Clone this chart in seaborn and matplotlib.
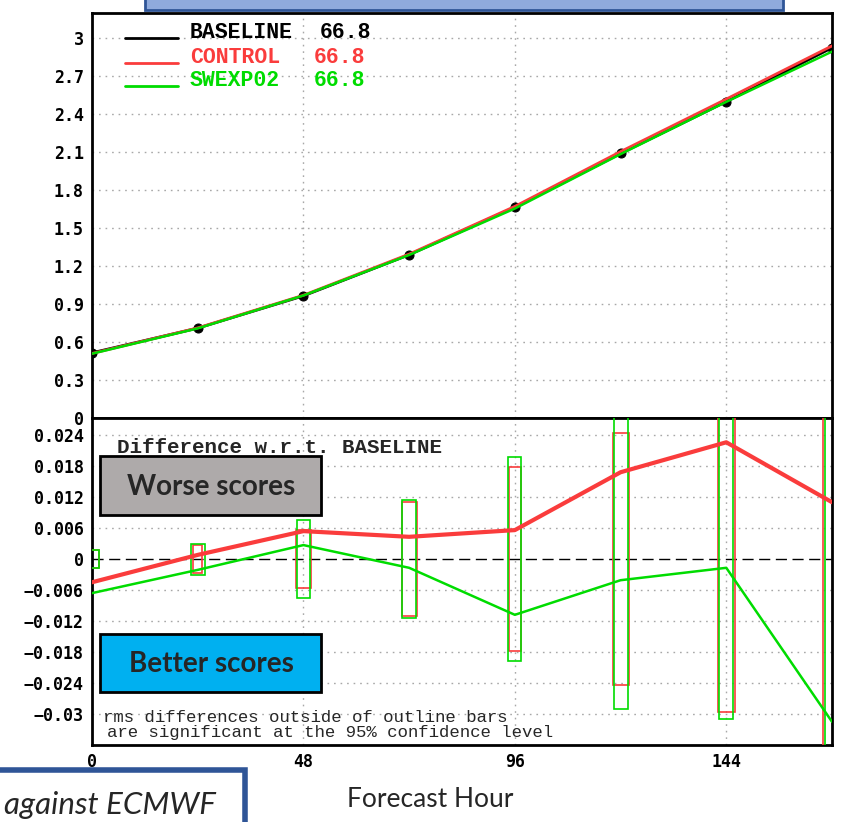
import numpy as np
import pandas as pd
import matplotlib
matplotlib.use("Agg")
import matplotlib.pyplot as plt
import seaborn as sns
from matplotlib.patches import Rectangle

# ---------------- data ----------------
hours = [0, 24, 48, 72, 96, 120, 144, 168]
baseline = [0.515, 0.71, 0.965, 1.29, 1.665, 2.09, 2.50, 2.925]
control = [0.51, 0.712, 0.97, 1.295, 1.672, 2.105, 2.52, 2.94]
swexp02 = [0.508, 0.708, 0.968, 1.288, 1.655, 2.085, 2.498, 2.895]

diff_control = [-0.0045, 0.0008, 0.0054, 0.0043, 0.0056, 0.0168, 0.0226, 0.011]
diff_swexp02 = [-0.0066, -0.0021, 0.0027, -0.0017, -0.0108, -0.0041, -0.0017, -0.0315]
ci_control = [0.0017, 0.0028, 0.0056, 0.011, 0.0178, 0.0244, 0.0296, 0.06]
ci_swexp02 = [0.0017, 0.0030, 0.0075, 0.0115, 0.0198, 0.029, 0.031, 0.06]

series_names = ["BASELINE", "CONTROL", "SWEXP02"]
series_scores = ["66.8", "66.8", "66.8"]

top_yticks = [0, 0.3, 0.6, 0.9, 1.2, 1.5, 1.8, 2.1, 2.4, 2.7, 3.0]
top_ylabels = ["0", "0.3", "0.6", "0.9", "1.2", "1.5", "1.8", "2.1", "2.4", "2.7", "3"]
bot_yticks = [0.024, 0.018, 0.012, 0.006, 0, -0.006, -0.012, -0.018, -0.024, -0.03]
bot_ylabels = ["0.024", "0.018", "0.012", "0.006", "0", "\u22120.006", "\u22120.012",
               "\u22120.018", "\u22120.024", "\u22120.03"]
xticks = [0, 48, 96, 144]
xlabels = ["0", "48", "96", "144"]

# ---------------- style ----------------
sns.set_theme(style="white")
plt.rcParams['font.family'] = ['DejaVu Sans']

BLACK = "#000000"
RED = "#FA3C3C"
GREEN = "#00DC00"
GRID = dict(color="#A8A8A8", linestyle=(0, (1.2, 3.5)), linewidth=1.0)

W, H = 846, 822
fig = plt.figure(figsize=(W / 100, H / 100), dpi=100)

ax1 = fig.add_axes([92 / W, 1 - 418 / H, 740 / W, 405 / H])
ax2 = fig.add_axes([92 / W, 1 - 745 / H, 740 / W, 327 / H])

tickfont = dict(family="DejaVu Sans Mono", weight="bold", size=12)

# top panel lines
df_top = pd.DataFrame({"hour": hours, "BASELINE": baseline, "CONTROL": control, "SWEXP02": swexp02})
sns.lineplot(data=df_top, x="hour", y="BASELINE", ax=ax1, color=BLACK, lw=2, marker="o",
             markersize=6.5, markeredgecolor=BLACK, zorder=3)
sns.lineplot(data=df_top, x="hour", y="CONTROL", ax=ax1, color=RED, lw=2, zorder=4)
sns.lineplot(data=df_top, x="hour", y="SWEXP02", ax=ax1, color=GREEN, lw=1.8, zorder=5)

ax1.set_xlim(0, 168)
ax1.set_ylim(0, 3.2)
ax1.set_yticks(top_yticks)
ax1.set_yticklabels(top_ylabels, fontdict=tickfont)
ax1.set_xticks(xticks)
ax1.set_xticklabels([])
ax1.tick_params(axis="x", length=0)
ax1.set_xlabel("")
ax1.set_ylabel("")
for y in top_yticks[1:]:
    ax1.axhline(y, zorder=0, **GRID)
for x in xticks[1:]:
    ax1.axvline(x, zorder=0, **GRID)

# legend
leg_y = [0.938, 0.877, 0.820]
leg_c = [BLACK, RED, GREEN]
val_x = [0.308, 0.299, 0.299]
for name, score, yy, cc, vx in zip(series_names, series_scores, leg_y, leg_c, val_x):
    ax1.plot([0.0446, 0.116], [yy, yy], transform=ax1.transAxes, color=cc, lw=2, zorder=6)
    ax1.text(0.1324, yy, name, transform=ax1.transAxes, color=cc, va="baseline", ha="left",
             family="Liberation Mono", weight="bold", size=15.5)
    ax1.text(vx, yy, score, transform=ax1.transAxes, color=cc, va="baseline", ha="left",
             family="Liberation Mono", weight="bold", size=15.5)

# bottom panel
bar_w_control = [3.0, 2.0, 3.4, 3.4, 2.8, 3.6, 3.8, 4.0]
bar_w_swexp02 = [3.2, 3.2, 3.0, 3.2, 3.0, 3.2, 3.2, 3.2]
df_bot = pd.DataFrame({"hour": hours, "CONTROL": diff_control, "SWEXP02": diff_swexp02})
ax2.bar(hours, [2 * c for c in ci_control], bottom=[-c for c in ci_control], width=bar_w_control,
        fill=False, edgecolor=RED, linewidth=1.2, zorder=3)
ax2.bar(hours, [2 * c for c in ci_swexp02], bottom=[-c for c in ci_swexp02], width=bar_w_swexp02,
        fill=False, edgecolor=GREEN, linewidth=1.2, zorder=3)
sns.lineplot(data=df_bot, x="hour", y="CONTROL", ax=ax2, color=RED, lw=3, zorder=5)
sns.lineplot(data=df_bot, x="hour", y="SWEXP02", ax=ax2, color=GREEN, lw=1.8, zorder=4)
ax2.axhline(0, color="black", lw=1.0, linestyle=(0, (8, 4)), zorder=2)

ax2.set_xlim(0, 168)
ax2.set_ylim(-0.036, 0.0273)
ax2.set_yticks(bot_yticks)
ax2.set_yticklabels(bot_ylabels, fontdict=tickfont)
ax2.set_xticks(xticks)
ax2.set_xticklabels(xlabels, fontdict=tickfont)
ax2.set_xlabel("")
ax2.set_ylabel("")
for y in bot_yticks:
    if y != 0:
        ax2.axhline(y, zorder=0, **GRID)
for x in xticks[1:]:
    ax2.axvline(x, zorder=0, **GRID)

ax2.text(0.0338, 0.893, "Difference w.r.t. BASELINE", transform=ax2.transAxes,
         family="Liberation Mono", weight="bold", size=15, va="baseline", ha="left")
ax2.text(0.0149, 0.070, "rms differences outside of outline bars", transform=ax2.transAxes,
         family="Liberation Mono", size=12.5, va="baseline", ha="left")
ax2.text(0.0200, 0.0245, "are significant at the 95% confidence level", transform=ax2.transAxes,
         family="Liberation Mono", size=12.5, va="baseline", ha="left")

for ax in (ax1, ax2):
    for s in ax.spines.values():
        s.set_color("black")
        s.set_linewidth(2)
        s.set_visible(True)
    ax.tick_params(axis="y", direction="out", length=4, width=1.5, pad=2, colors="black")
ax2.tick_params(axis="x", direction="out", length=4, width=1.5, pad=2, colors="black")

# ---------------- overlay annotations ----------------
fig.add_artist(Rectangle((145 / W, 1 - 10 / H), (783 - 145) / W, 30 / H, transform=fig.transFigure,
                         facecolor="#8FAADC", edgecolor="#2F5597", lw=2, zorder=10))

fig.add_artist(Rectangle((100 / W, 1 - 515 / H), 221 / W, 59 / H, transform=fig.transFigure,
                         facecolor="#AEAAAA", edgecolor="black", lw=2, zorder=10))
fig.text(211 / W, 1 - 487 / H, "Worse scores", family="Lato", weight="bold", size=20,
         ha="center", va="center", zorder=11)
fig.add_artist(Rectangle((100 / W, 1 - 692 / H), 221 / W, 58 / H, transform=fig.transFigure,
                         facecolor="#00B0F0", edgecolor="black", lw=2, zorder=10))
fig.text(211 / W, 1 - 664 / H, "Better scores", family="Lato", weight="bold", size=20,
         ha="center", va="center", zorder=11)

fig.add_artist(Rectangle((-20 / W, 1 - 840 / H), 265 / W, 70 / H, transform=fig.transFigure,
                         facecolor="white", edgecolor="#2F5597", lw=4, zorder=10))
fig.text(4 / W, 1 - 814 / H, "against ECMWF", family="Lato", style="italic",
         size=22.5, ha="left", va="baseline", zorder=11)

fig.text(430 / W, 1 - 807 / H, "Forecast Hour", family="Lato", size=19,
         ha="center", va="baseline")

fig.savefig("out.png", dpi=100)
